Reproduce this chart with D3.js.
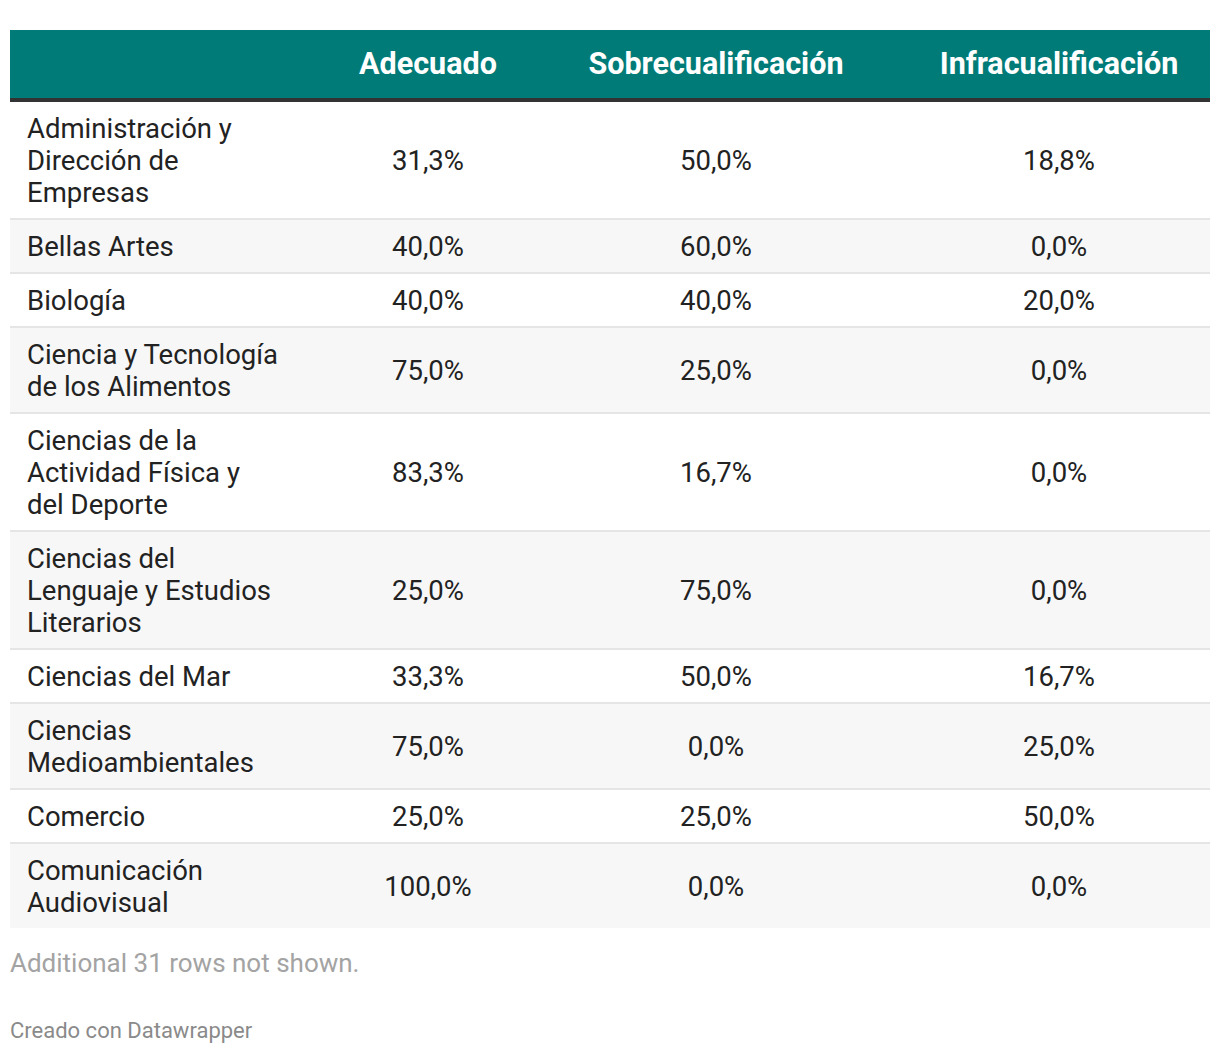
<!DOCTYPE html>
<html>
<head>
<meta charset="utf-8">
<script src="https://cdn.jsdelivr.net/npm/d3@7"></script>
<style>
  body { margin: 0; background: #fff; }
  svg { display: block; font-family: Roboto, sans-serif; }
</style>
</head>
<body>
<script>
// column headers
var columns = ["Adecuado", "Sobrecualificación", "Infracualificación"];

// row labels (line breaks as in the original table)
var categories = [
  "Administración y\nDirección de\nEmpresas",
  "Bellas Artes",
  "Biología",
  "Ciencia y Tecnología\nde los Alimentos",
  "Ciencias de la\nActividad Física y\ndel Deporte",
  "Ciencias del\nLenguaje y Estudios\nLiterarios",
  "Ciencias del Mar",
  "Ciencias\nMedioambientales",
  "Comercio",
  "Comunicación\nAudiovisual"
];

var adecuado           = [31.3, 40.0, 40.0, 75.0, 83.3, 25.0, 33.3, 75.0, 25.0, 100.0];
var sobrecualificacion = [50.0, 60.0, 40.0, 25.0, 16.7, 75.0, 50.0, 0.0, 25.0, 0.0];
var infracualificacion = [18.8, 0.0, 20.0, 0.0, 0.0, 0.0, 16.7, 25.0, 50.0, 0.0];

var hiddenRows = 31;

var width = 1220, height = 1054;
var left = 10, right = 1210;
var headTop = 30, headH = 68, rule = 4;
var lineH = 32, pad = 10, sep = 2;
var bodySize = 27.5, headSize = 30.5;

var svg = d3.select("body").append("svg")
  .attr("width", width)
  .attr("height", height);

// column centres
var colX = d3.scaleOrdinal()
  .domain(columns)
  .range([428, 716, 1059]);

var fmt = function(v) {
  return d3.format(".1f")(v).replace(".", ",") + "%";
};

// header
svg.append("rect")
  .attr("x", left).attr("y", headTop)
  .attr("width", right - left).attr("height", headH)
  .attr("fill", "#017b78");
svg.append("rect")
  .attr("x", left).attr("y", headTop + headH)
  .attr("width", right - left).attr("height", rule)
  .attr("fill", "#333333");

svg.selectAll("text.head")
  .data(columns)
  .enter()
  .append("text")
  .attr("class", "head")
  .attr("x", function(d) { return colX(d); })
  .attr("y", headTop + headH / 2 + 10)
  .attr("text-anchor", "middle")
  .attr("fill", "#ffffff")
  .attr("font-weight", 700)
  .attr("font-size", headSize)
  .text(function(d) { return d; });

// rows: compute top of each row from the number of label lines
var rows = categories.map(function(c, i) {
  return {
    lines: c.split("\n"),
    vals: [adecuado[i], sobrecualificacion[i], infracualificacion[i]]
  };
});
var y = headTop + headH + rule;
rows.forEach(function(r, i) {
  r.top = y;
  r.h = r.lines.length * lineH + 2 * pad;
  y += r.h + sep;
});

var g = svg.selectAll("g.row")
  .data(rows)
  .enter()
  .append("g")
  .attr("class", "row")
  .attr("transform", function(d) { return "translate(0," + d.top + ")"; });

g.append("rect")
  .attr("x", left)
  .attr("width", right - left)
  .attr("height", function(d) { return d.h; })
  .attr("fill", function(d, i) { return i % 2 ? "#f7f7f7" : "#ffffff"; });

// separators
g.filter(function(d, i) { return i < rows.length - 1; })
  .append("rect")
  .attr("x", left)
  .attr("y", function(d) { return d.h; })
  .attr("width", right - left)
  .attr("height", sep)
  .attr("fill", "#e5e5e5");

// labels
g.append("text")
  .attr("fill", "#222222")
  .attr("font-size", bodySize)
  .selectAll("tspan")
  .data(function(d) { return d.lines; })
  .enter()
  .append("tspan")
  .attr("x", 27)
  .attr("y", function(d, i) { return pad + lineH / 2 + i * lineH + 9.5; })
  .text(function(d) { return d; });

// values
g.selectAll("text.val")
  .data(function(d) {
    return d.vals.map(function(v, j) { return { v: v, col: columns[j], h: d.h }; });
  })
  .enter()
  .append("text")
  .attr("class", "val")
  .attr("x", function(d) { return colX(d.col); })
  .attr("y", function(d) { return d.h / 2 + 9.5; })
  .attr("text-anchor", "middle")
  .attr("fill", "#222222")
  .attr("font-size", bodySize)
  .text(function(d) { return fmt(d.v); });

// notes
svg.append("text")
  .attr("x", left).attr("y", 972)
  .attr("fill", "#a3a3a3")
  .attr("font-size", 26)
  .text("Additional " + hiddenRows + " rows not shown.");

svg.append("text")
  .attr("x", left).attr("y", 1038)
  .attr("fill", "#8a8a8a")
  .attr("font-size", 22)
  .text("Creado con Datawrapper");
</script>
</body>
</html>
